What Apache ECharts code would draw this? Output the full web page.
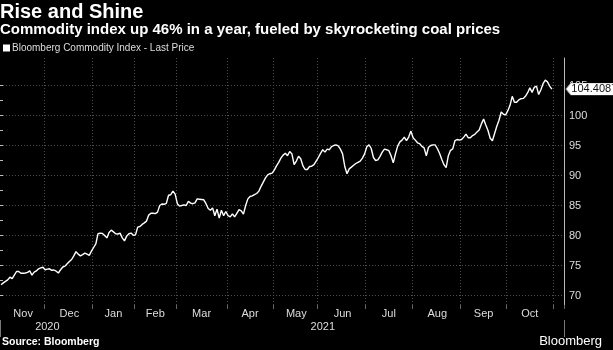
<!DOCTYPE html>
<html>
<head>
<meta charset="utf-8">
<script src="https://cdn.jsdelivr.net/npm/echarts@6/dist/echarts.min.js"></script>
<style>
  html, body { margin: 0; padding: 0; background: #000; }
  #chart { width: 613px; height: 350px; }
</style>
</head>
<body>
<div id="chart"></div>
<script>
// ---- Text ----
const titleText = 'Rise and Shine';
const subtitleText = 'Commodity index up 46% in a year, fueled by skyrocketing coal prices';
const seriesName = 'Bloomberg Commodity Index - Last Price';
const sourceText = 'Source: Bloomberg';
const brandText = 'Bloomberg';

// ---- Trading calendar (x categories) ----
const firstDay = '2020-11-02';
const lastDay = '2021-11-05';
const marketHolidays = ['2020-11-26', '2020-12-25', '2021-01-01', '2021-01-18',
  '2021-02-15', '2021-04-02', '2021-05-31', '2021-07-05', '2021-09-06'];
const monthLabels = ['Jan', 'Feb', 'Mar', 'Apr', 'May', 'Jun', 'Jul', 'Aug', 'Sep', 'Oct', 'Nov', 'Dec'];

// ---- Y ticks ----
const yTickValues = [70, 75, 80, 85, 90, 95, 100, 105];

// ---- Daily closes, one array per month ----
const closesNov2020 = [71.8, 72.1, 72.35, 72.6, 73.05, 72.8, 73.4, 74.0, 74.0, 73.7, 73.7, 73.75, 73.85, 74.1, 73.4, 73.9, 74.1, 74.45, 74.6, 74.7];
const closesDec2020 = [74.3, 74.4, 74.45, 74.2, 74.25, 74.05, 73.75, 74.3, 74.75, 74.9, 75.3, 75.65, 76.0, 76.6, 77.3, 76.9, 76.6, 76.8, 77.05, 76.9, 76.7, 77.4];
const closesJan2021 = [78.0, 78.6, 80.3, 80.4, 80.35, 80.0, 79.6, 80.5, 80.9, 80.6, 80.3, 80.25, 80.4, 79.6, 79.1, 79.9, 80.3, 80.4, 80.05];
const closesFeb2021 = [80.1, 81.4, 81.5, 81.85, 82.1, 82.4, 83.4, 83.7, 83.7, 83.65, 83.9, 85.0, 85.25, 85.2, 85.35, 86.7, 86.8, 87.4, 86.9];
const closesMar2021 = [85.3, 84.9, 85.0, 85.1, 85.0, 85.7, 85.4, 85.3, 85.45, 86.1, 86.05, 86.0, 85.95, 85.3, 84.5, 84.2, 84.6, 83.3, 84.4, 82.9, 84.2, 83.3, 84.0];
const closesApr2021 = [83.3, 83.1, 83.6, 83.1, 83.7, 84.3, 84.1, 83.55, 85.0, 86.1, 86.5, 86.6, 86.8, 87.0, 87.4, 88.2, 88.9, 89.6, 90.1, 90.3, 90.4];
const closesMay2021 = [90.9, 91.6, 92.2, 92.9, 93.4, 93.7, 93.3, 94.0, 93.6, 91.8, 92.4, 93.2, 92.8, 91.6, 91.0, 91.0, 91.5, 91.55, 91.8, 92.4];
const closesJun2021 = [93.0, 93.7, 94.3, 93.9, 94.4, 94.3, 94.8, 95.0, 95.1, 94.95, 94.4, 93.6, 91.5, 90.3, 91.1, 91.4, 91.7, 92.0, 92.2, 92.4, 92.9, 93.6];
const closesJul2021 = [94.8, 95.1, 94.5, 93.0, 92.5, 92.6, 93.2, 93.9, 94.4, 94.3, 94.15, 93.3, 92.1, 93.6, 94.9, 95.6, 95.9, 96.4, 95.8, 96.4, 97.4];
const closesAug2021 = [96.3, 95.9, 95.45, 95.3, 94.85, 94.6, 93.3, 94.7, 95.0, 95.1, 95.1, 94.5, 93.7, 92.7, 91.8, 91.3, 93.3, 94.2, 94.45, 95.8, 96.0, 95.9];
const closesSep2021 = [96.0, 96.4, 96.9, 96.3, 96.3, 96.65, 96.85, 97.25, 97.6, 98.6, 99.4, 98.4, 97.5, 96.2, 95.8, 97.0, 98.2, 99.2, 100.6, 100.2, 100.1];
const closesOct2021 = [100.8, 101.7, 103.2, 102.2, 102.2, 102.6, 102.8, 102.85, 103.2, 103.8, 104.6, 103.85, 104.7, 104.9, 103.5, 104.3, 105.3, 105.9, 105.6, 104.9, 104.4087];

const closes = [].concat(closesNov2020, closesDec2020, closesJan2021, closesFeb2021,
  closesMar2021, closesApr2021, closesMay2021, closesJun2021, closesJul2021,
  closesAug2021, closesSep2021, closesOct2021);
const lastClose = closes[closes.length - 1];

// Build the list of weekday trading dates between firstDay and lastDay.
function tradingDates(from, to, skip) {
  const out = [];
  const d = new Date(from + 'T00:00:00Z');
  const end = new Date(to + 'T00:00:00Z');
  while (d <= end) {
    const iso = d.toISOString().slice(0, 10);
    const wd = d.getUTCDay();
    if (wd !== 0 && wd !== 6 && skip.indexOf(iso) < 0) out.push(iso);
    d.setUTCDate(d.getUTCDate() + 1);
  }
  return out;
}
const dates = tradingDates(firstDay, lastDay, marketHolidays);

// Month / year boundaries on the trading-day index.
const monthStart = {}, monthMid = {}, yearStart = {}, yearMid = {};
const months = [];
dates.forEach((d, i) => {
  const key = d.slice(0, 7);
  if (!months.length || months[months.length - 1].key !== key) months.push({ key, start: i });
});
for (let k = 0; k < months.length; k++) {
  months[k].end = k + 1 < months.length ? months[k + 1].start : dates.length;
  if (months[k].start > 0) monthStart[months[k].start] = true;
}
// Months fully covered by data get a label at their middle.
const labelled = months.filter(m => m.end <= closes.length);
labelled.forEach(m => { monthMid[Math.floor((m.start + m.end) / 2)] = monthLabels[+m.key.slice(5, 7) - 1]; });
const years = {};
labelled.forEach(m => {
  const y = m.key.slice(0, 4);
  if (!years[y]) years[y] = { start: m.start, end: m.end };
  years[y].end = m.end;
});
Object.keys(years).forEach(y => {
  yearMid[Math.floor((years[y].start + years[y].end) / 2)] = y;
  if (years[y].start > 0) yearStart[years[y].start] = true;
});

// ---- Layout ----
const W = 613, H = 350;
const plotRight = 564, plotTop = 58, plotBottom = 305;
const yMin = yTickValues[0], yMax = yTickValues[yTickValues.length - 1];
const yStep = yTickValues[1] - yTickValues[0];
const labelTop = 85.5, labelBottom = 295.5;           // pixel rows of yMax / yMin
const pxPerUnit = (labelBottom - labelTop) / (yMax - yMin);
const plotMax = yMax + (labelTop - plotTop) / pxPerUnit;
const plotMin = yMin - (plotBottom - labelBottom) / pxPerUnit;

const FONT = 'Liberation Sans, Arial, sans-serif';
const gridLine = { color: '#4d4d4d', type: [1, 2], width: 1 };

const chart = echarts.init(document.getElementById('chart'), null, { renderer: 'canvas' });
chart.setOption({
  animation: false,
  backgroundColor: '#000',
  textStyle: { fontFamily: FONT },
  title: [
    { text: titleText, left: 0, top: 2, padding: 0,
      textStyle: { color: '#fff', fontSize: 20, fontWeight: 'bold', fontFamily: FONT } },
    { text: subtitleText, left: 0, top: 22.5, padding: 0,
      textStyle: { color: '#fff', fontSize: 15, fontWeight: 'bold', fontFamily: FONT } },
    { text: sourceText, left: 2, top: 336.5, padding: 0,
      textStyle: { color: '#fff', fontSize: 10.5, fontWeight: 'bold', fontFamily: FONT } },
    { text: brandText, right: 11, top: 334.5, padding: 0,
      textStyle: { color: '#fff', fontSize: 13, fontWeight: 'normal', fontFamily: FONT } }
  ],
  legend: {
    data: [seriesName], left: 3, top: 43, padding: 0, icon: 'rect',
    itemWidth: 7, itemHeight: 7, selectedMode: false,
    textStyle: { color: '#ddd', fontSize: 10, fontFamily: FONT, padding: [0, 0, 0, -3] }
  },
  grid: [
    { left: 0, right: W - plotRight, top: plotTop, bottom: H - plotBottom, containLabel: false },
    { left: 0, right: W - plotRight, top: labelTop, bottom: H - labelBottom, containLabel: false }
  ],
  xAxis: [
    { // trading days, month gridlines and month labels
      gridIndex: 0, type: 'category', data: dates, boundaryGap: true, position: 'bottom',
      axisLine: { show: false },
      axisTick: { show: true, length: 4, interval: (i) => !!monthStart[i], lineStyle: { color: '#666' } },
      splitLine: { show: true, interval: (i) => !!monthStart[i], lineStyle: gridLine },
      axisLabel: { show: true, interval: (i) => monthMid[i] !== undefined, formatter: (v, i) => monthMid[i] || '',
        color: '#ddd', fontSize: 11, margin: 3, fontFamily: FONT }
    },
    { // year row beneath the months
      gridIndex: 0, type: 'category', data: dates, boundaryGap: true, position: 'bottom', offset: 15,
      axisLine: { show: false, onZero: false },
      axisTick: { show: true, length: 17, interval: (i) => !!yearStart[i], lineStyle: { color: '#777' } },
      splitLine: { show: false },
      axisLabel: { show: true, interval: (i) => yearMid[i] !== undefined, formatter: (v, i) => yearMid[i] || '',
        color: '#ddd', fontSize: 11, margin: 1.5, fontFamily: FONT }
    },
    { gridIndex: 1, type: 'value', show: false }
  ],
  yAxis: [
    { // price scale for the line, full plot height
      gridIndex: 0, type: 'value', position: 'right', min: plotMin, max: plotMax,
      axisLine: { show: true, lineStyle: { color: '#bbb', width: 1 } },
      axisTick: { show: false }, axisLabel: { show: false }, splitLine: { show: false }
    },
    { // labelled ticks and horizontal gridlines
      gridIndex: 1, type: 'value', position: 'right', min: yMin, max: yMax, interval: yStep,
      axisLine: { show: false },
      axisTick: { show: true, length: 3, lineStyle: { color: '#bbb' } },
      minorTick: { show: true, splitNumber: 2, length: 3, lineStyle: { color: '#bbb' } },
      axisLabel: { color: '#ddd', fontSize: 11, margin: 5, fontFamily: FONT },
      splitLine: { show: true, lineStyle: gridLine }
    }
  ],
  series: [{
    name: seriesName, type: 'line', xAxisIndex: 0, yAxisIndex: 0,
    data: closes, symbol: 'none', smooth: false,
    itemStyle: { color: '#fff' },
    lineStyle: { color: '#fff', width: 1.4 },
    markPoint: {
      symbol: 'path://M0,6 L5,0 L54,0 L54,12 L5,12 Z',
      symbolSize: [54, 12], symbolKeepAspect: false,
      symbolOffset: [30, 0],
      itemStyle: { color: '#fff', borderColor: '#999', borderWidth: 0.5 },
      label: { show: true, position: 'insideLeft', distance: 6, color: '#111', fontSize: 11,
        fontFamily: FONT, formatter: () => String(lastClose) },
      data: [{ coord: [dates[dates.length - 1], lastClose], value: lastClose }]
    }
  }]
});
</script>
</body>
</html>
